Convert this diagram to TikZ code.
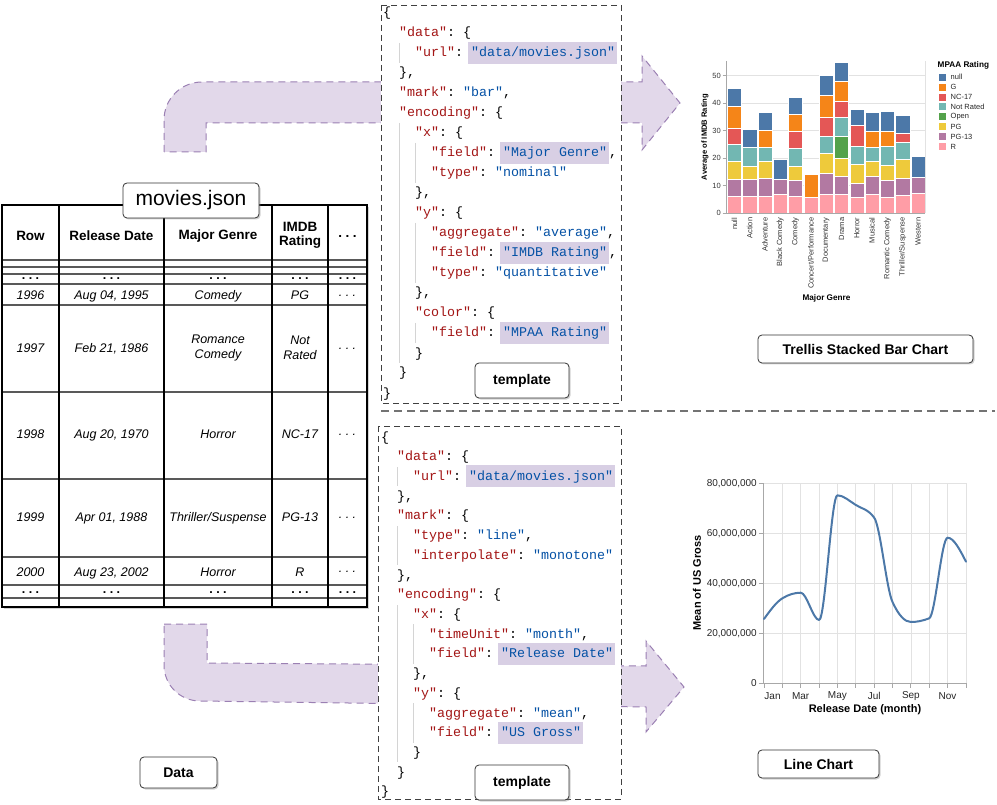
\documentclass[tikz,border=0pt]{standalone}
\usepackage{fontspec}
\setmainfont{Liberation Sans}
\setmonofont{Liberation Mono}
\usetikzlibrary{shadows}
\definecolor{keyc}{HTML}{A31515}
\definecolor{strc}{HTML}{0451A5}
\definecolor{hlc}{HTML}{D8CFE4}
\definecolor{arrfill}{HTML}{E2D8EA}
\definecolor{arrdraw}{HTML}{9B80B3}
\definecolor{guide}{HTML}{D4D4D4}
\definecolor{cNL}{HTML}{4C78A8}
\definecolor{cG}{HTML}{F58518}
\definecolor{cN17}{HTML}{E45756}
\definecolor{cNR}{HTML}{72B7B2}
\definecolor{cOP}{HTML}{54A24B}
\definecolor{cPG}{HTML}{EECA3B}
\definecolor{cP13}{HTML}{B279A2}
\definecolor{cR}{HTML}{FF9DA6}
\definecolor{gridc}{HTML}{E2E2E2}
\definecolor{axisc}{HTML}{A8A8A8}
\setlength\fboxsep{0pt}
\newcommand\ky[1]{\textcolor{keyc}{"#1"}}
\newcommand\sv[1]{\textcolor{strc}{"#1"}}
\newcommand\hv[1]{\kern-3pt\colorbox{hlc}{\kern3pt\rule[-7pt]{0pt}{22pt}\textcolor{strc}{"#1"}\kern2pt}}
\newcommand\tdots{.\hspace{3.5pt}.\hspace{3.5pt}.}
\begin{document}
\begin{tikzpicture}[x=1pt,y=-1pt,
  lbl/.style={draw=black!80, line width=0.8pt, rounded corners=4pt, fill=white,
    font=\bfseries\fontsize{14}{16}\selectfont, inner sep=0pt,
    drop shadow={opacity=0.35, shadow xshift=1.5pt, shadow yshift=-1.5pt}},
  arrw/.style={fill=arrfill, draw=arrdraw, dash pattern=on 7pt off 5pt, line width=1pt},
  tmpl/.style={draw=black!75, dash pattern=on 6pt off 4pt, line width=0.9pt, fill=white},
  sepl/.style={draw=black!55, dash pattern=on 8pt off 5pt, line width=1.2pt},
  code/.style={inner sep=0pt, anchor=base west, font=\ttfamily\fontsize{13.33}{16}\selectfont},
  gline/.style={draw=guide, line width=0.8pt},
  hdr/.style={font=\bfseries\fontsize{13.5}{14.4}\selectfont, inner sep=0pt, align=center},
  cell/.style={font=\itshape\fontsize{12.5}{15}\selectfont, inner sep=0pt, anchor=base},
  hline/.style={draw=black!65, line width=1.2pt},
  vline/.style={draw=black, line width=2pt},
  tick/.style={font=\fontsize{7.5}{9}\selectfont, text=black!80, inner sep=0pt},
  btitle/.style={font=\bfseries\fontsize{8.2}{10}\selectfont, inner sep=0pt},
  ltick/.style={font=\fontsize{10}{12}\selectfont, text=black!85, inner sep=0pt},
  ltitle/.style={font=\bfseries\fontsize{11}{13}\selectfont, inner sep=0pt}]
\useasboundingbox (0,0) rectangle (997,805);

% ---------------- arrows (behind the templates)
\draw[arrw] (164,152) -- (164,120) .. controls (164,99) and (181,82) .. (202,82)
  -- (642,82) -- (642,56) -- (680,103) -- (642,150) -- (642,123) -- (206,123) -- (206,152) -- cycle;
\draw[arrw] (164,624) -- (207,624) -- (207,663) -- (646,666) -- (646,641) -- (684,687)
  -- (646,732) -- (646,707) -- (200,701) .. controls (180,701) and (164,685) .. (164,665) -- cycle;

% ---------------- separator
\coordinate (sepL) at (381,411);
\coordinate (sepR) at (995,411);
\draw[sepl] (sepL) -- (sepR);

% ---------------- table
\draw[line width=1.5pt, fill=white, drop shadow={opacity=0.35, shadow xshift=2pt, shadow yshift=-2pt}] (2,205) rectangle (367,607);
\foreach \yy in {260,267,274,284,305,392,479,557,585,598} \draw[hline] (2,\yy) -- (367,\yy);
\foreach \xx in {59,164,272,328} \draw[vline] (\xx,205) -- (\xx,607);
\draw[line width=1.5pt] (2,205) rectangle (367,607);

\node[hdr] (hRow) at (30.5,236) {Row};
\node[hdr] (hRel) at (111.5,236) {Release Date};
\node[hdr] (hGen) at (218,236) {Major Genre};
\node[hdr] (hIMDB) at (300,235.5) {IMDB\\Rating};
\node[hdr] (hMore) at (347.5,236) {\tdots};

\foreach \cx [count=\i] in {30.5,111.5,218,300,347.5} {
  \node[cell, font=\bfseries\fontsize{12.5}{15}\selectfont] (dA\i) at (\cx,280) {\tdots};
  \node[cell, font=\bfseries\fontsize{12.5}{15}\selectfont] (dB\i) at (\cx,593) {\tdots};
}
\foreach \yy/\a/\b/\c/\d [count=\r] in {299.8/1996/{Aug 04, 1995}/Comedy/PG,
   438.8/1998/{Aug 20, 1970}/Horror/NC-17,
   521.8/1999/{Apr 01, 1988}/Thriller\slash Suspense/PG-13,
   576.2/2000/{Aug 23, 2002}/Horror/R} {
  \node[cell] (r\r a) at (30.5,\yy) {\a};
  \node[cell] (r\r b) at (111.5,\yy) {\b};
  \node[cell] (r\r c) at (218,\yy) {\c};
  \node[cell] (r\r d) at (300,\yy) {\d};
  \node[cell] (r\r e) at (347.5,\yy-3.5) {\tdots};
}
\node[cell] (q1) at (30.5,352.8) {1997};
\node[cell] (q2) at (111.5,352.8) {Feb 21, 1986};
\node[cell, anchor=center, align=center] (q3) at (218,347.5) {Romance\\Comedy};
\node[cell, anchor=center, align=center] (q4) at (300,347.5) {Not\\Rated};
\node[cell] (q5) at (347.5,352.8-3.5) {\tdots};

\node[lbl, font=\fontsize{21}{24}\selectfont, minimum width=136pt, minimum height=35pt] (movies) at (191,200.5) {movies.json};
\node[lbl, minimum width=77pt, minimum height=31pt] (data) at (178.5,772.5) {Data};

% ---------------- templates
\draw[tmpl] (381,5) rectangle (621,403);
\draw[tmpl] (378,426) rectangle (621,799);

% indent guides
\draw[gline] (399,43) -- (399,63);
\draw[gline] (399,123) -- (399,363);
\draw[gline] (415,143) -- (415,183);
\draw[gline] (415,223) -- (415,283);
\draw[gline] (415,323) -- (415,343);
\draw[gline] (397,467) -- (397,486);
\draw[gline] (397,526) -- (397,565);
\draw[gline] (397,605) -- (397,762);
\draw[gline] (413,624) -- (413,664);
\draw[gline] (413,703) -- (413,743);

\foreach \l/\t [count=\k from 0] in {0/{\{}, 1/{\ky{data}: \{}, 2/{\ky{url}: \hv{data/movies.json}},
  1/{\},}, 1/{\ky{mark}: \sv{bar},}, 1/{\ky{encoding}: \{}, 2/{\ky{x}: \{},
  3/{\ky{field}: \hv{Major Genre},}, 3/{\ky{type}: \sv{nominal}}, 2/{\},}, 2/{\ky{y}: \{},
  3/{\ky{aggregate}: \sv{average},}, 3/{\ky{field}: \hv{IMDB Rating},}, 3/{\ky{type}: \sv{quantitative}},
  2/{\},}, 2/{\ky{color}: \{}, 3/{\ky{field}: \hv{MPAA Rating}}, 2/{\}}, 1/{\}}, 0/{\}}}
  \node[code] (ta\k) at ({383+16*\l},{17+20*\k}) {\t};

\foreach \l/\t [count=\k from 0] in {0/{\{}, 1/{\ky{data}: \{}, 2/{\ky{url}: \hv{data/movies.json}},
  1/{\},}, 1/{\ky{mark}: \{}, 2/{\ky{type}: \sv{line},}, 2/{\ky{interpolate}: \sv{monotone}},
  1/{\},}, 1/{\ky{encoding}: \{}, 2/{\ky{x}: \{}, 3/{\ky{timeUnit}: \sv{month},},
  3/{\ky{field}: \hv{Release Date}}, 2/{\},}, 2/{\ky{y}: \{}, 3/{\ky{aggregate}: \sv{mean},},
  3/{\ky{field}: \hv{US Gross}}, 2/{\}}, 1/{\}}, 0/{\}}}
  \node[code] (tb\k) at ({381+16*\l},{441+19.72*\k}) {\t};

\node[lbl, minimum width=94pt, minimum height=35pt] (tpl1) at (522,380.5) {template};
\node[lbl, minimum width=94pt, minimum height=35pt] (tpl2) at (522,782.5) {template};

% ---------------- bar chart
\foreach \v in {10,20,30,40,50} \draw[gridc, line width=0.6pt] (726.7,{213.3-2.75*\v}) -- (925,{213.3-2.75*\v});
\foreach \i/\segs in {
  1/{cR/6.4,cP13/12.4,cPG/19.0,cNR/25.2,cN17/30.9,cG/38.8,cNL/45.4},
  2/{cR/6.4,cP13/12.4,cPG/17.3,cNR/24.2,cNL/30.5},
  3/{cR/6.3,cP13/12.9,cPG/19.1,cNR/24.0,cG/30.3,cNL/36.8},
  4/{cR/7.0,cP13/12.4,cNL/19.6},
  5/{cR/6.4,cP13/11.9,cPG/17.3,cNR/23.6,cN17/29.7,cG/35.9,cNL/42.4},
  6/{cR/6.0,cG/14.2},
  7/{cR/7.0,cP13/14.5,cPG/21.8,cNR/28.2,cN17/35.1,cG/43.0,cNL/50.3},
  8/{cR/7.0,cP13/13.6,cPG/20.2,cOP/27.9,cNR/34.8,cN17/40.9,cG/48.1,cNL/55.0},
  9/{cR/6.0,cP13/10.9,cPG/17.9,cNR/24.5,cN17/32.1,cNL/37.8},
  10/{cR/7.0,cP13/13.6,cPG/19.0,cNR/24.0,cG/30.0,cNL/36.7},
  11/{cR/6.0,cP13/11.9,cPG/17.6,cNR/24.5,cG/30.0,cNL/37.3},
  12/{cR/6.5,cP13/12.9,cPG/19.6,cNR/25.7,cN17/29.3,cNL/35.7},
  13/{cR/7.2,cP13/13.3,cNL/20.6}} {
  \pgfmathsetmacro\xl{726.7+(\i-1)*15.3+0.6}
  \pgfmathsetmacro\xr{\xl+14.1}
  \xdef\prev{0}
  \foreach \c/\v in \segs {
    \filldraw[fill=\c, draw=white, line width=0.3pt] (\xl,{213.3-2.75*\prev}) rectangle (\xr,{213.3-2.75*\v});
    \xdef\prev{\v}
  }
}
\draw[axisc, line width=0.7pt] (726.7,61) -- (726.7,213.3) -- (925,213.3);
\draw[gridc, line width=0.6pt] (925,61) -- (925,213.3);
\foreach \v in {0,10,20,30,40,50} {
  \draw[axisc, line width=0.6pt] (722.5,{213.3-2.75*\v}) -- (726.7,{213.3-2.75*\v});
  \node[tick, anchor=east] (by\v) at (721,{213.3-2.75*\v}) {\v};
}
\node[btitle, rotate=90, font=\bfseries\fontsize{7.6}{9}\selectfont] (bytitle) at (705,137) {Average of IMDB Rating};
\foreach \g [count=\i] in {null,Action,Adventure,Black Comedy,Comedy,Concert/Performance,Documentary,Drama,Horror,Musical,Romantic Comedy,Thriller/Suspense,Western}
  \node[tick, rotate=90, anchor=east] (bg\i) at ({734.35+(\i-1)*15.3},217.5) {\g};
\node[btitle] (bxtitle) at (826.5,298) {Major Genre};
\node[btitle, anchor=west] (legt) at (937.5,65) {MPAA Rating};
\foreach \c/\t [count=\k from 0] in {cNL/null,cG/G,cN17/NC-17,cNR/Not Rated,cOP/Open,cPG/PG,cP13/PG-13,cR/R} {
  \fill[\c] (939,{77.3+9.9*\k-3.5}) rectangle (946,{77.3+9.9*\k+3.5});
  \node[tick, anchor=west, text=black!85] (leg\k) at (950.5,{77.3+9.9*\k}) {\t};
}
\node[lbl, minimum width=215pt, minimum height=28pt] (trellis) at (865.5,349) {Trellis Stacked Bar Chart};

% ---------------- line chart
\foreach \v in {20,40,60,80} \draw[gridc, line width=0.7pt] (763.3,{683.3-2.5*\v}) -- (966,{683.3-2.5*\v});
\foreach \k in {1,...,11} \draw[gridc, line width=0.7pt] ({764+18.36*\k},483) -- ({764+18.36*\k},683.3);
\draw[axisc, line width=0.8pt] (763.3,483) -- (763.3,683.3) -- (966,683.3);
\foreach \k in {0,...,11} \draw[axisc, line width=0.8pt] ({764+18.36*\k},683.3) -- ({764+18.36*\k},688);
\foreach \v/\t in {0/0,20/{20,000,000},40/{40,000,000},60/{60,000,000},80/{80,000,000}} {
  \draw[axisc, line width=0.8pt] (758.5,{683.3-2.5*\v}) -- (763.3,{683.3-2.5*\v});
  \node[ltick, anchor=east] (ly\v) at (757,{683.3-2.5*\v}) {\t};
}
\foreach \xx/\t in {772.5/Jan,800.7/Mar,837.4/May,874.2/Jul,910.9/Sep,947.6/Nov}
  \node[ltick] (lx\t) at (\xx,696) {\t};
\node[ltitle, rotate=90] (lytitle) at (697,583) {Mean of US Gross};
\node[ltitle] (lxtitle) at (865,710) {Release Date (month)};
\draw[cNL, line width=2pt, line join=round, line cap=round]
  (764,619) .. controls (770.12,610.52) and (776.28,602.03) .. (782.4,598.3)
  .. controls (788.52,594.57) and (794.58,592.7) .. (800.7,592.7)
  .. controls (806.82,592.7) and (812.98,620) .. (819.1,620)
  .. controls (825.22,620) and (831.28,495.3) .. (837.4,495.3)
  .. controls (843.52,495.3) and (849.68,501.27) .. (855.8,505)
  .. controls (861.92,508.73) and (868.08,509.23) .. (874.2,517.7)
  .. controls (880.32,526.17) and (886.38,588.67) .. (892.5,602)
  .. controls (898.62,615.33) and (904.78,622) .. (910.9,622)
  .. controls (917.02,622) and (923.08,620.77) .. (929.2,618.3)
  .. controls (935.32,615.83) and (941.48,537.7) .. (947.6,537.7)
  .. controls (953.72,537.7) and (959.88,549.7) .. (966,561.7);
\node[lbl, minimum width=121pt, minimum height=28pt] (linech) at (818.5,764) {Line Chart};
\end{tikzpicture}
\end{document}
